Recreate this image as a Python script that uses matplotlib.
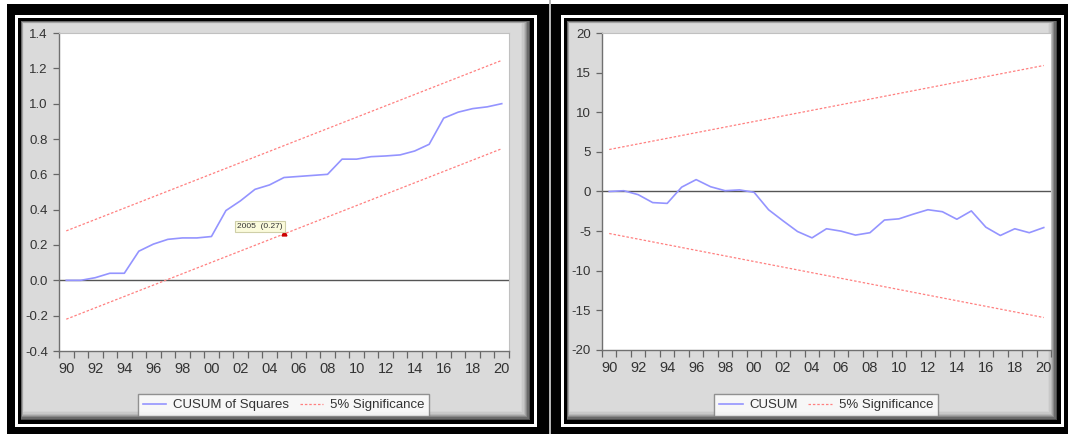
import matplotlib
matplotlib.use("Agg")
import matplotlib.pyplot as plt
from matplotlib.patches import Rectangle
from matplotlib.lines import Line2D

plt.rcParams['font.family'] = ['Liberation Sans', 'DejaVu Sans']

W, H = 1068, 434

# data
years = list(range(1990, 2021))
cusum_sq = [0.0, 0.0, 0.015, 0.04, 0.04, 0.165, 0.205, 0.232, 0.24, 0.24, 0.248,
            0.395, 0.45, 0.515, 0.54, 0.582, 0.588, 0.594, 0.6, 0.686, 0.686,
            0.7, 0.704, 0.71, 0.732, 0.77, 0.918, 0.952, 0.972, 0.982, 1.0]
cusum = [0.0, 0.1, -0.4, -1.4, -1.5, 0.55, 1.5, 0.6, 0.1, 0.2, -0.1,
         -2.3, -3.7, -5.05, -5.85, -4.7, -5.0, -5.5, -5.2, -3.6, -3.45,
         -2.85, -2.3, -2.55, -3.5, -2.45, -4.5, -5.55, -4.7, -5.2, -4.55]
sig_years = [1990, 2020]
sq_upper = [0.28, 1.245]
sq_lower = [-0.22, 0.745]
cs_upper = [5.3, 15.9]
cs_lower = [-5.3, -15.9]

sq_ticks = [-0.4, -0.2, 0.0, 0.2, 0.4, 0.6, 0.8, 1.0, 1.2, 1.4]
cs_ticks = [-20, -15, -10, -5, 0, 5, 10, 15, 20]
label_years = list(range(1990, 2021, 2))

tip_year, tip_value = 2005, 0.27

BLUE = '#9494ff'
RED = '#ff8080'
TXT = '#333333'


def box(x0, y0, x1, y1):
    # pixel box (top-left origin) -> figure fraction rect
    return [x0 / W, 1 - y1 / H, (x1 - x0) / W, (y1 - y0) / H]


def rect(fig, x0, y0, x1, y1, color):
    l, b, w, h = box(x0, y0, x1, y1)
    fig.add_artist(Rectangle((l, b), w, h, transform=fig.transFigure,
                             facecolor=color, edgecolor='none', zorder=-10))


def frame(fig, bx0, bx1, wx0, wx1):
    # black outer, thin white line, thin black, then shaded gray panel
    rect(fig, bx0, 4, bx1, H, 'black')
    rect(fig, wx0, 15, wx1, 427, 'white')
    rect(fig, wx0 + 3, 18, wx1 - 3, 424, 'black')
    x0, y0, x1, y1 = wx0 + 6, 21, wx1 - 7, 420
    shades = ['#4a4a4a', '#6a6a6a', '#888888', '#a2a2a2', '#b8b8b8',
              '#c8c8c8', '#d3d3d3', '#dadada']
    for i, c in enumerate(shades):
        rect(fig, x0 + 0.4 * i, y0 + 0.4 * i, x1 - 1.3 * i, y1 - 1.3 * i, c)


def style_axes(ax, ticks, fmt):
    ax.set_xlim(1989.5, 2020.5)
    ax.set_ylim(ticks[0], ticks[-1])
    ax.set_yticks(ticks)
    ax.set_yticklabels([fmt(t) for t in ticks])
    # tick marks between years, labels on even years
    ax.set_xticks([y + 0.5 for y in range(1989, 2021)])
    ax.set_xticklabels([])
    ax.set_xticks(label_years, minor=True)
    ax.set_xticklabels(['%02d' % (y % 100) for y in label_years], minor=True)
    ax.tick_params(axis='x', which='major', length=5, width=0.9, color='#666666')
    ax.tick_params(axis='x', which='minor', length=0, pad=8, labelsize=10.5,
                   labelcolor=TXT)
    ax.tick_params(axis='y', length=4, width=0.9, color='#666666', pad=4,
                   labelsize=9.5, labelcolor=TXT)
    for s in ['left', 'bottom']:
        ax.spines[s].set_color('#707070')
        ax.spines[s].set_linewidth(1.0)
    for s in ['top', 'right']:
        ax.spines[s].set_color('#c0c0c0')
        ax.spines[s].set_linewidth(0.8)
    ax.axhline(0, color='#555555', lw=1.0, zorder=1)


fig = plt.figure(figsize=(W / 100, H / 100), dpi=100)
fig.patch.set_facecolor('white')

frame(fig, 7, 549, 15, 537)
rect(fig, 549, 0, 551, H, '#b4b4b4')
frame(fig, 551, W, 561, 1064)

# left: CUSUM of squares
ax1 = fig.add_axes(box(59, 33, 509, 351))
style_axes(ax1, sq_ticks, lambda t: '%.1f' % t)
ax1.plot(years, cusum_sq, color=BLUE, lw=1.2, zorder=3)
ax1.plot(sig_years, sq_upper, color=RED, lw=0.9, ls=(0, (2, 1.5)), zorder=2)
ax1.plot(sig_years, sq_lower, color=RED, lw=0.9, ls=(0, (2, 1.5)), zorder=2)
ax1.plot([tip_year], [tip_value], marker='^', ms=3.5, color='#cc0000',
         zorder=5)
ax1.annotate('2005  (0.27)', xy=(tip_year, tip_value), xytext=(-24, 6),
             textcoords='offset pixels', ha='center', va='center',
             fontsize=6, color='#333333', zorder=6,
             bbox=dict(boxstyle='square,pad=0.25', fc='#fbfbdc',
                       ec='#cfcfa8', lw=0.8))

# right: CUSUM
ax2 = fig.add_axes(box(602, 33, 1051, 350))
style_axes(ax2, cs_ticks, lambda t: '%d' % t)
ax2.plot(years, cusum, color=BLUE, lw=1.2, zorder=3)
ax2.plot(sig_years, cs_upper, color=RED, lw=0.9, ls=(0, (2, 1.5)), zorder=2)
ax2.plot(sig_years, cs_lower, color=RED, lw=0.9, ls=(0, (2, 1.5)), zorder=2)


def legend(name, cx):
    handles = [Line2D([], [], color=BLUE, lw=1.2),
               Line2D([], [], color=RED, lw=0.9, ls=(0, (2, 1.5)))]
    lg = fig.legend(handles, [name, '5% Significance'], loc='center',
                    bbox_to_anchor=(cx / W, 1 - 405 / H), ncol=2,
                    fontsize=9.5, frameon=True, fancybox=False,
                    handlelength=1.8, handletextpad=0.5, columnspacing=0.8,
                    borderpad=0.35, borderaxespad=0)
    lg.get_frame().set_edgecolor('#7a7a7a')
    lg.get_frame().set_linewidth(1.0)
    for t in lg.get_texts():
        t.set_color(TXT)


legend('CUSUM of Squares', (143 + 424) / 2)
legend('CUSUM', (718 + 934) / 2)

fig.savefig('out.png', dpi=100)
